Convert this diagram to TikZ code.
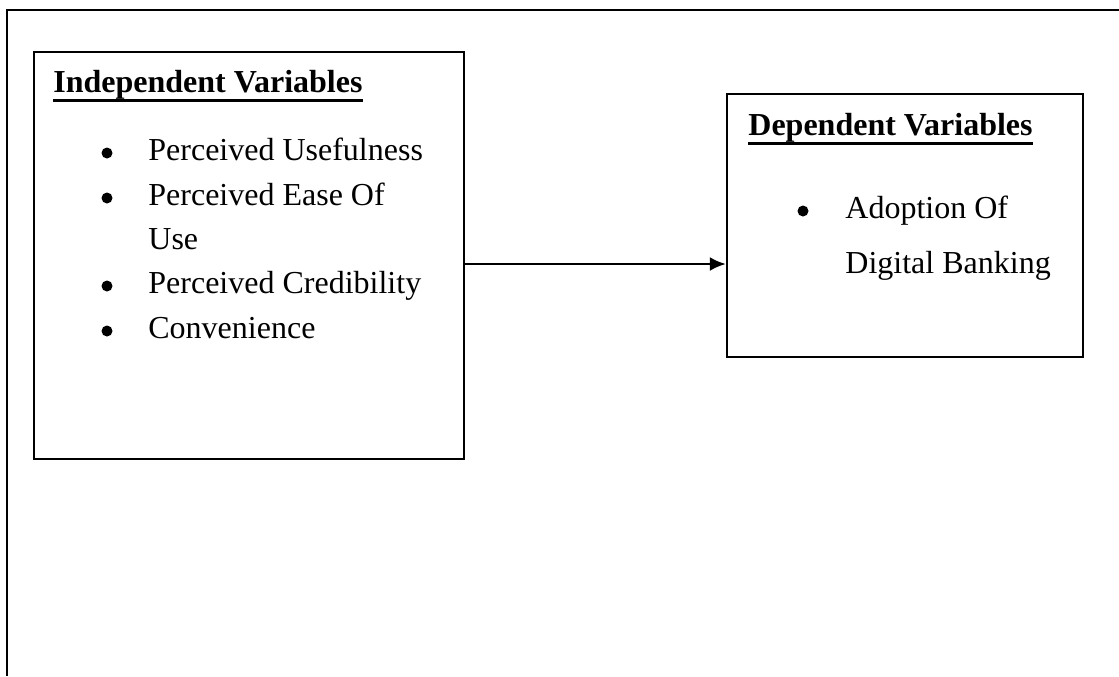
\documentclass[tikz,border=0pt]{standalone}
\usepackage{fontspec}
\setmainfont{Liberation Serif}
\usepackage{tikz}
\usetikzlibrary{arrows.meta}
\tikzset{
  varbox/.style={draw,line width=1.2pt,inner sep=0pt},
  vartext/.style={anchor=base west,inner sep=0pt,font=\fontsize{16pt}{19pt}\selectfont},
  varhead/.style={vartext,font=\fontsize{16pt}{19pt}\selectfont\bfseries},
  itemdot/.style={circle,fill,inner sep=0pt,minimum size=5.5pt}
}
\begin{document}
\begin{tikzpicture}[x=0.5pt,y=-0.5pt]
\useasboundingbox (0,0) rectangle (1119,676);
% outer frame (only top and left edges show)
\draw [line width=1.2pt] (7,676)--(7,10)--(1119,10);
\node (indep) [varbox,minimum width=215pt,minimum height=203.5pt] at (249,255.5) {};
\node (dep) [varbox,minimum width=178pt,minimum height=131.5pt] at (905,225.5) {};
% left box
\node (indephead) [varhead] at (53,92) {Independent Variables};
\draw [line width=1.5pt] ([yshift=-4pt]indephead.base west)--([yshift=-4pt]indephead.base east);
\node (dotA) [itemdot] at (107,153) {};
\node (itemA) [vartext] at (148,160) {Perceived Usefulness};
\node (dotB) [itemdot] at (107,198) {};
\node (itemB) [vartext] at (148,205) {Perceived Ease Of};
\node (itemBb) [vartext] at (148,249) {Use};
\node (dotC) [itemdot] at (107,286) {};
\node (itemC) [vartext] at (148,293) {Perceived Credibility};
\node (dotD) [itemdot] at (107,331) {};
\node (itemD) [vartext] at (148,338) {Convenience};
% right box
\node (dephead) [varhead] at (748,135) {Dependent Variables};
\draw [line width=1.5pt] ([yshift=-4pt]dephead.base west)--([yshift=-4pt]dephead.base east);
\node (dotE) [itemdot] at (803,211) {};
\node (itemE) [vartext] at (845,218) {Adoption Of};
\node (itemEb) [vartext] at (845,273) {Digital Banking};
% the arrow between the boxes:
\coordinate (arrowrow) at (0,264);
\draw [line width=1.2pt,-{Latex[length=8pt,width=7pt]}] (indep.east |- arrowrow)--(dep.west |- arrowrow);
\end{tikzpicture}
\end{document}
